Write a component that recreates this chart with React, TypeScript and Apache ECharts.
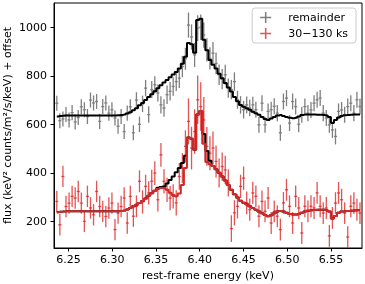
import React, { useEffect, useRef } from 'react';
import * as echarts from 'echarts';

// bin centres (keV)
const ENERGY = [
  6.2367, 6.2402, 6.2437, 6.2472, 6.2507, 6.2542, 6.2577, 6.2612, 6.2647, 6.2682,
  6.2717, 6.2752, 6.2787, 6.2822, 6.2857, 6.2892, 6.2927, 6.2962, 6.2997, 6.3032,
  6.3067, 6.3102, 6.3137, 6.3172, 6.3207, 6.3242, 6.3277, 6.3312, 6.3347, 6.3382,
  6.3417, 6.3452, 6.3487, 6.3522, 6.3557, 6.3592, 6.3627, 6.3662, 6.3697, 6.3732,
  6.3767, 6.3802, 6.3837, 6.3872, 6.3907, 6.3942, 6.3977, 6.4012, 6.4047, 6.4082,
  6.4117, 6.4152, 6.4187, 6.4222, 6.4257, 6.4292, 6.4327, 6.4362, 6.4397, 6.4432,
  6.4467, 6.4502, 6.4537, 6.4572, 6.4607, 6.4642, 6.4677, 6.4712, 6.4747, 6.4782,
  6.4817, 6.4852, 6.4887, 6.4922, 6.4957, 6.4992, 6.5027, 6.5062, 6.5097, 6.5132,
  6.5167, 6.5202, 6.5237, 6.5272, 6.5307, 6.5342, 6.5377, 6.5412, 6.5447, 6.5482,
  6.5517, 6.5552, 6.5587, 6.5622, 6.5657, 6.5692, 6.5727, 6.5762, 6.5797, 6.5832,
];

// "remainder" spectrum (with offset)
const REMAINDER = [
  687, 615, 622, 640, 618, 648, 610, 628, 672, 660,
  632, 700, 688, 694, 612, 673, 688, 646, 660, 626,
  592, 632, 570, 646, 672, 565, 700, 600, 684, 749,
  640, 743, 763, 729, 680, 667, 722, 736, 756, 776,
  790, 838, 870, 1009, 960, 886, 996, 1000, 968, 907,
  872, 893, 851, 804, 786, 804, 749, 743, 776, 701,
  680, 660, 680, 667, 680, 660, 598, 687, 598, 653,
  660, 674, 646, 565, 694, 708, 605, 694, 673, 600,
  639, 673, 646, 659, 687, 701, 708, 646, 626, 598,
  577, 550, 653, 659, 639, 673, 687, 646, 701, 673,
];
const REMAINDER_ERR = [
  31, 31, 31, 31, 31, 31, 31, 31, 31, 31,
  31, 31, 31, 31, 31, 31, 31, 31, 31, 31,
  31, 31, 31, 31, 31, 31, 32, 32, 34, 34,
  34, 35, 35, 35, 36, 36, 38, 38, 38, 39,
  40, 44, 45, 52, 52, 50, 53, 53, 52, 48,
  46, 46, 45, 42, 42, 41, 40, 40, 38, 37,
  36, 36, 35, 34, 34, 33, 33, 33, 33, 33,
  33, 33, 33, 33, 33, 33, 33, 33, 33, 33,
  33, 33, 33, 33, 33, 33, 33, 33, 33, 33,
  33, 33, 33, 33, 33, 33, 33, 33, 33, 33,
];
const REMAINDER_MODEL = [
  632, 634, 635, 636, 636, 636, 636, 636, 636, 636,
  636, 636, 636, 636, 636, 636, 636, 636, 636, 636,
  637, 638, 640, 644, 650, 658, 666, 678, 688, 700,
  712, 724, 736, 749, 761, 772, 783, 794, 805, 816,
  830, 850, 878, 935, 930, 895, 1030, 1035, 948, 905,
  865, 845, 830, 808, 790, 770, 752, 735, 712, 695,
  680, 672, 666, 660, 652, 645, 639, 630, 622, 618,
  624, 630, 636, 638, 634, 630, 627, 625, 627, 632,
  638, 640, 640, 640, 640, 639, 639, 638, 636, 630,
  605, 618, 628, 634, 637, 638, 639, 640, 640, 640,
];

// "30−130 ks" spectrum
const EARLY = [
  282, 186, 385, 261, 275, 303, 296, 323, 275, 200,
  303, 255, 227, 323, 261, 241, 220, 255, 275, 166,
  234, 261, 296, 193, 303, 221, 262, 365, 280, 344,
  317, 365, 399, 289, 474, 365, 330, 296, 303, 276,
  385, 419, 509, 612, 502, 570, 701, 673, 618, 509,
  481, 502, 447, 399, 426, 412, 358, 170, 235, 262,
  344, 378, 276, 248, 317, 303, 221, 282, 241, 296,
  193, 241, 221, 166, 276, 330, 262, 193, 303, 255,
  152, 262, 241, 262, 255, 317, 262, 234, 255, 140,
  214, 275, 317, 289, 234, 135, 262, 275, 248, 234,
];
const EARLY_ERR = [
  44, 44, 44, 44, 44, 44, 44, 44, 44, 44,
  44, 44, 44, 44, 44, 44, 44, 44, 44, 44,
  44, 44, 44, 44, 44, 44, 45, 45, 48, 48,
  48, 48, 49, 49, 49, 50, 50, 50, 50, 52,
  55, 62, 66, 95, 88, 92, 100, 100, 95, 80,
  70, 68, 66, 60, 58, 58, 56, 55, 52, 50,
  48, 48, 47, 46, 46, 45, 45, 45, 45, 45,
  45, 45, 45, 45, 45, 45, 45, 45, 45, 45,
  45, 45, 45, 45, 45, 45, 45, 45, 45, 45,
  45, 45, 45, 45, 45, 45, 45, 45, 45, 45,
];
const EARLY_BASE_MODEL = [
  237, 239, 240, 241, 241, 241, 241, 241, 241, 241,
  241, 241, 241, 241, 241, 241, 241, 241, 241, 241,
  242, 243, 245, 249, 255, 262, 268, 275, 284, 294,
  305, 316, 326, 338, 341, 344, 356, 370, 385, 402,
  420, 440, 470, 546, 540, 495, 640, 655, 560, 490,
  450, 428, 415, 400, 385, 368, 350, 330, 312, 298,
  285, 277, 270, 262, 255, 248, 240, 233, 226, 221,
  225, 233, 240, 243, 240, 235, 230, 228, 228, 230,
  235, 240, 244, 246, 247, 248, 248, 248, 246, 240,
  212, 222, 235, 240, 242, 243, 244, 245, 246, 246,
];
const EARLY_MODEL = [
  237, 239, 240, 241, 241, 241, 241, 241, 241, 241,
  241, 241, 241, 241, 241, 241, 241, 241, 241, 241,
  242, 243, 245, 249, 255, 262, 268, 275, 284, 294,
  305, 316, 326, 333, 337, 337, 330, 318, 308, 303,
  315, 350, 420, 546, 540, 495, 640, 655, 520, 445,
  435, 428, 415, 400, 385, 368, 350, 330, 312, 298,
  285, 277, 270, 262, 255, 248, 240, 233, 226, 221,
  225, 233, 240, 243, 240, 235, 230, 228, 228, 230,
  235, 240, 244, 246, 247, 248, 248, 248, 246, 240,
  212, 222, 235, 240, 242, 243, 244, 245, 246, 246,
];

const X_TICKS = [6.25, 6.3, 6.35, 6.4, 6.45, 6.5, 6.55];
const Y_TICKS = [200, 400, 600, 800, 1000];
const SERIES_NAMES = ['remainder', '30\u2212130 ks'];

const BIN_HALF = 0.00175;
const GREY = '#7f7f7f';
const RED_BAR = 'rgba(222,34,34,0.78)';
const RED_LINE = '#d62728';
const FONT = 'DejaVu Sans';
const PLUS = 'path://M4.3,0H5.7V4.3H10V5.7H5.7V10H4.3V5.7H0V4.3H4.3Z';

function errorBars(name: string, vals: number[], errs: number[], color: string, z: number) {
  return {
    type: 'custom',
    name,
    z,
    clip: true,
    itemStyle: { color },
    encode: { x: 0, y: 1 },
    data: ENERGY.map((e, i) => [e, vals[i], errs[i]]),
    renderItem: (params: any, api: any) => {
      const x = api.value(0);
      const y = api.value(1);
      const err = api.value(2);
      const top = api.coord([x, y + err]);
      const bot = api.coord([x, y - err]);
      const l = api.coord([x - BIN_HALF, y]);
      const r = api.coord([x + BIN_HALF, y]);
      const style = { stroke: color, lineWidth: 1.3, fill: null };
      return {
        type: 'group',
        children: [
          { type: 'line', shape: { x1: top[0], y1: top[1], x2: bot[0], y2: bot[1] }, style },
          { type: 'line', shape: { x1: l[0], y1: l[1], x2: r[0], y2: r[1] }, style },
        ],
      };
    },
  };
}

function modelLine(vals: number[], color: string, z: number) {
  return {
    type: 'line',
    step: 'middle',
    symbol: 'none',
    silent: true,
    z,
    lineStyle: { color, width: 2 },
    data: ENERGY.map((e, i) => [e, vals[i]]),
  };
}

export default function App() {
  const ref = useRef<HTMLDivElement>(null);
  useEffect(() => {
    if (!ref.current) return;
    const chart = echarts.init(ref.current, null, { renderer: 'svg' });
    const axisCommon = {
      type: 'value',
      nameLocation: 'middle',
      nameMoveOverlap: false,
      nameTextStyle: { fontSize: 11, color: '#000', fontFamily: FONT },
      axisLine: { show: true, onZero: false, lineStyle: { color: '#000', width: 1 } },
      splitLine: { show: false },
    };
    chart.setOption({
      animation: false,
      textStyle: { fontFamily: FONT },
      grid: {
        left: 54,
        right: 3,
        top: 3,
        bottom: 36,
        show: true,
        borderColor: '#000',
        borderWidth: 1,
        containLabel: false,
        outerBoundsMode: 'none',
      },
      legend: {
        orient: 'vertical',
        right: 9,
        top: 8,
        itemWidth: 11,
        itemHeight: 11,
        itemGap: 5,
        padding: [4, 8, 4, 8],
        borderColor: '#cccccc',
        borderWidth: 1,
        borderRadius: 3,
        backgroundColor: 'rgba(255,255,255,0.8)',
        textStyle: { fontSize: 11, color: '#000', fontFamily: FONT, padding: [0, 0, 0, 12] },
        data: SERIES_NAMES.map((n) => ({ name: n, icon: PLUS })),
      },
      xAxis: {
        ...axisCommon,
        min: 6.2335,
        max: 6.5855,
        name: 'rest-frame energy (keV)',
        nameGap: 22,
        axisTick: { show: true, inside: false, length: 3.5, customValues: X_TICKS, lineStyle: { color: '#000' } },
        axisLabel: {
          customValues: X_TICKS,
          formatter: (v: number) => v.toFixed(2),
          fontSize: 11,
          color: '#000',
          margin: 6,
          fontFamily: FONT,
        },
      },
      yAxis: {
        ...axisCommon,
        min: 90,
        max: 1100,
        name: 'flux (keV\u00b2 counts/m\u00b2/s/keV) + offset',
        nameGap: 41,
        axisTick: { show: true, inside: false, length: 3.5, customValues: Y_TICKS, lineStyle: { color: '#000' } },
        axisLabel: {
          customValues: Y_TICKS,
          formatter: (v: number) => String(v),
          fontSize: 11,
          color: '#000',
          margin: 7,
          fontFamily: FONT,
        },
      },
      series: [
        errorBars(SERIES_NAMES[0], REMAINDER, REMAINDER_ERR, GREY, 2),
        modelLine(REMAINDER_MODEL, '#000000', 3),
        errorBars(SERIES_NAMES[1], EARLY, EARLY_ERR, RED_BAR, 4),
        modelLine(EARLY_BASE_MODEL, '#000000', 5),
        modelLine(EARLY_MODEL, RED_LINE, 6),
      ],
    });
    return () => chart.dispose();
  }, []);
  return <div ref={ref} style={{ position: 'fixed', left: 0, top: 0, width: 365, height: 284 }} />;
}
